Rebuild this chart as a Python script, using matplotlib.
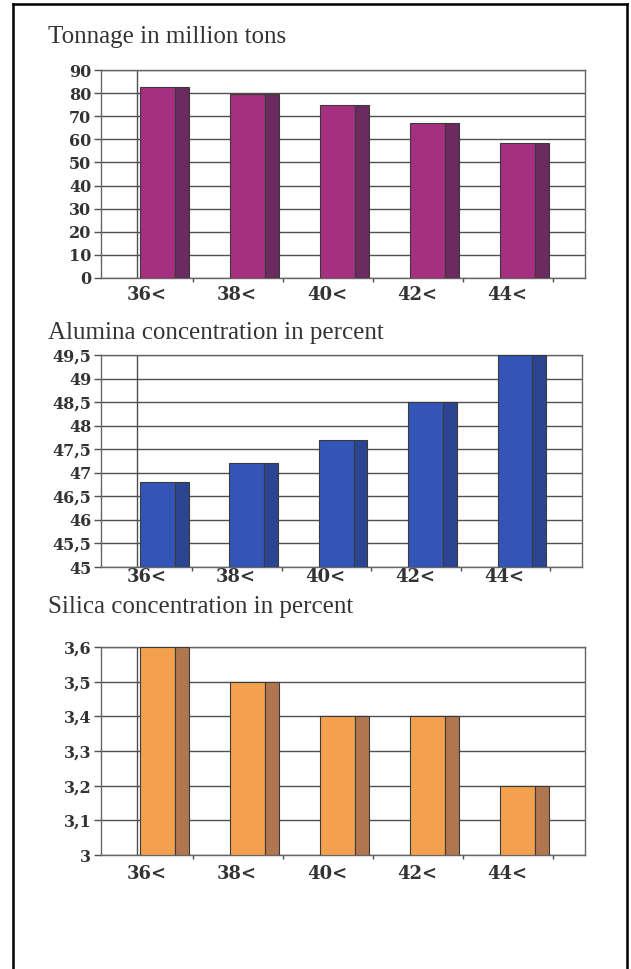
import matplotlib.pyplot as plt
from matplotlib.lines import Line2D
import numpy as np

W, H = 631, 969

categories = ["36<", "38<", "40<", "42<", "44<"]

tonnage = [82.6, 79.5, 74.9, 67.2, 58.3]
tonnage_ticks = [0, 10, 20, 30, 40, 50, 60, 70, 80, 90]
tonnage_labels = ["0", "10", "20", "30", "40", "50", "60", "70", "80", "90"]

alumina = [46.8, 47.2, 47.7, 48.5, 49.5]
alumina_ticks = [45, 45.5, 46, 46.5, 47, 47.5, 48, 48.5, 49, 49.5]
alumina_labels = ["45", "45,5", "46", "46,5", "47", "47,5", "48", "48,5", "49", "49,5"]

silica = [3.6, 3.5, 3.4, 3.4, 3.2]
silica_ticks = [3, 3.1, 3.2, 3.3, 3.4, 3.5, 3.6]
silica_labels = ["3", "3,1", "3,2", "3,3", "3,4", "3,5", "3,6"]

TXT = "#333333"
GRID = "#505050"
TICKFONT = dict(family="DejaVu Serif", weight="bold", size=11.5, color=TXT)


def px_rect(left, right, top, bottom):
    return [left / W, 1 - bottom / H, (right - left) / W, (bottom - top) / H]


def draw_chart(rect, values, ticks, labels, front, side, label_pad):
    ax = fig.add_axes(rect)
    ymin, ymax = ticks[0], ticks[-1]
    x = np.arange(len(values))
    ax.set_xlim(-0.628, 4.75)
    ax.set_ylim(ymin, ymax)

    for t in ticks:
        ax.axhline(t, color=GRID, lw=1.0, zorder=1)
    # side wall edge of the 3D plot area
    ax.plot([-0.228, -0.228], [ymin, ymax], color=GRID, lw=1.0, zorder=1)

    heights = np.array(values) - ymin
    ax.bar(x - 0.194, heights, bottom=ymin, width=0.39, align="edge",
           color=front, edgecolor="#3a3a3a", linewidth=0.8, zorder=3)
    ax.bar(x + 0.196, heights, bottom=ymin, width=0.155, align="edge",
           color=side, edgecolor="#3a3a3a", linewidth=0.8, zorder=3)

    for s in ax.spines.values():
        s.set_color("#666666")
        s.set_linewidth(1.0)

    ax.set_yticks(ticks)
    ax.set_yticklabels(labels)
    ax.tick_params(axis="y", length=5, width=1, color=GRID, pad=2)
    for lab in ax.get_yticklabels():
        lab.set(**TICKFONT)

    ax.set_xticks(x - 0.117)
    ax.set_xticklabels(categories)
    ax.tick_params(axis="x", which="major", length=0, pad=label_pad)
    ax.set_xticks(x + 0.394, minor=True)
    ax.tick_params(axis="x", which="minor", length=3, width=1, color=GRID)
    for lab in ax.get_xticklabels():
        lab.set(**TICKFONT)
        lab.set_fontsize(13)
    return ax


fig = plt.figure(figsize=(W / 100, H / 100), dpi=100)

draw_chart(px_rect(101, 585, 70, 278), tonnage, tonnage_ticks, tonnage_labels,
           "#a5307f", "#6b2a60", 6)
draw_chart(px_rect(101, 582, 355, 567), alumina, alumina_ticks, alumina_labels,
           "#3455b8", "#2b4593", 1)
draw_chart(px_rect(101, 585, 647, 855), silica, silica_ticks, silica_labels,
           "#f3a04f", "#b07650", 7)

titles = [("Tonnage in million tons", 37),
          ("Alumina concentration in percent", 333),
          ("Silica concentration in percent", 607)]
for text, ypx in titles:
    fig.text(48 / W, 1 - ypx / H, text, family="Liberation Serif", size=18,
             color=TXT, ha="left", va="center")

# outer frame of the scanned page
for xs, ys in [((13, 13), (4, H)), ((13, 627), (4, 4)), ((627, 627), (4, H))]:
    fig.add_artist(Line2D([v / W for v in xs], [1 - v / H for v in ys],
                          color="black", lw=1.8))

fig.savefig("out.png", dpi=100)
